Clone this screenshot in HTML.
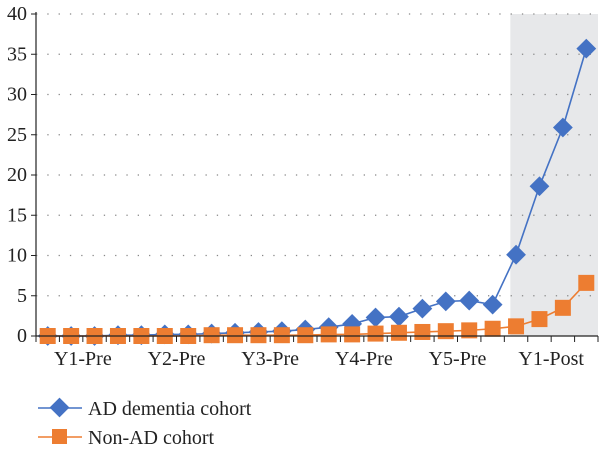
<!DOCTYPE html>
<html><head><meta charset="utf-8"><style>
body{margin:0;background:#fff}
svg text{font-family:"Liberation Serif",serif;fill:#222}
</style></head><body>
<svg width="600" height="451" id="c">
<g id="grid"></g><g id="marks"></g><g id="axes"></g>
<g>
 <g>
  <line x1="38" y1="408" x2="82" y2="408" stroke="#4472c4" stroke-width="1.5"/>
  <rect x="52.5" y="400.5" width="14" height="14" fill="#4472c4" transform="rotate(45 59.5 407.5)"/>
  <text x="88" y="415" font-size="20">AD dementia cohort</text>
 </g>
 <g>
  <line x1="38" y1="437" x2="82" y2="437" stroke="#ed7d31" stroke-width="1.5"/>
  <rect x="52" y="429" width="15" height="15" fill="#ed7d31"/>
  <text x="88" y="444" font-size="20">Non-AD cohort</text>
 </g>
</g>
</svg>
<script>
const categoryLabels=["Y1-Pre","Y2-Pre","Y3-Pre","Y4-Pre","Y5-Pre","Y1-Post"];
const adValues=[0,0,0,0.1,0.1,0.2,0.2,0.3,0.4,0.5,0.6,0.8,1.1,1.5,2.3,2.4,3.4,4.3,4.4,3.9,10.1,18.6,25.9,35.7];
const nonAdValues=[0,0,0,0,0,0,0,0.1,0.1,0.1,0.1,0.1,0.2,0.2,0.3,0.4,0.5,0.6,0.7,0.9,1.2,2.1,3.5,6.6];
const yTicks=[0,5,10,15,20,25,30,35,40];
const NS="http://www.w3.org/2000/svg";
const X0=36,X1=598,Y0=336,Y1=14,N=adValues.length;
const bw=(X1-X0)/N;
const xs=i=>X0+bw*(i+0.5);
const ys=v=>Y0-(v/40)*(Y0-Y1);
function mk(p,t,a){const e=document.createElementNS(NS,t);for(const k in a)e.setAttribute(k,a[k]);p.appendChild(e);return e;}
const grid=document.getElementById('grid'),marks=document.getElementById('marks'),axes=document.getElementById('axes');
const shX=X0+bw*20+6;
const sh=mk(grid,'rect',{x:shX,y:Y1,width:X1-shX,height:Y0-Y1,fill:'#e7e8ea'});


yTicks.forEach(t=>{
 if(t>0){const g=mk(grid,'line',{x1:X0,x2:X1,y1:ys(t),y2:ys(t),stroke:'#888','stroke-width':1.3,'stroke-dasharray':'1.3 10'});
 
 }
 const tk=mk(axes,'line',{x1:X0-5,x2:X0,y1:ys(t),y2:ys(t),stroke:'#222'});
 
 
 const tx=mk(axes,'text',{x:X0-9,y:ys(t)+6,'text-anchor':'end','font-size':20});
 tx.textContent=t;
 
 
});
const ya=mk(axes,'line',{x1:X0,x2:X0,y1:Y1-2,y2:Y0,stroke:'#222','stroke-width':1.2});


const xa=mk(axes,'line',{x1:X0,x2:X1,y1:Y0,y2:Y0,stroke:'#222','stroke-width':1.2});


for(let i=0;i<=N;i++){const t=mk(axes,'line',{x1:X0+bw*i,x2:X0+bw*i,y1:Y0,y2:Y0+6,stroke:'#222'});
 
 }
categoryLabels.forEach((l,j)=>{const t=mk(axes,'text',{x:X0+bw*(4*j+2),y:Y0+29,'text-anchor':'middle','font-size':20});
 t.textContent=l;
 
 });
function series(vals,color,shape,name){
 const pl=mk(marks,'polyline',{points:vals.map((v,i)=>xs(i)+','+ys(v)).join(' '),fill:'none',stroke:color,'stroke-width':1.6});
 
 
 vals.forEach((v,i)=>{let m;
  if(shape==='d'){m=mk(marks,'rect',{x:xs(i)-7,y:ys(v)-7,width:14,height:14,fill:color,transform:`rotate(45 ${xs(i)} ${ys(v)})`});}
  else{m=mk(marks,'rect',{x:xs(i)-8,y:ys(v)-8,width:16,height:16,fill:color});}
  
  });
}
series(adValues,'#4472c4','d','ad-dementia');
series(nonAdValues,'#ed7d31','s','non-ad');
</script>
</body></html>
